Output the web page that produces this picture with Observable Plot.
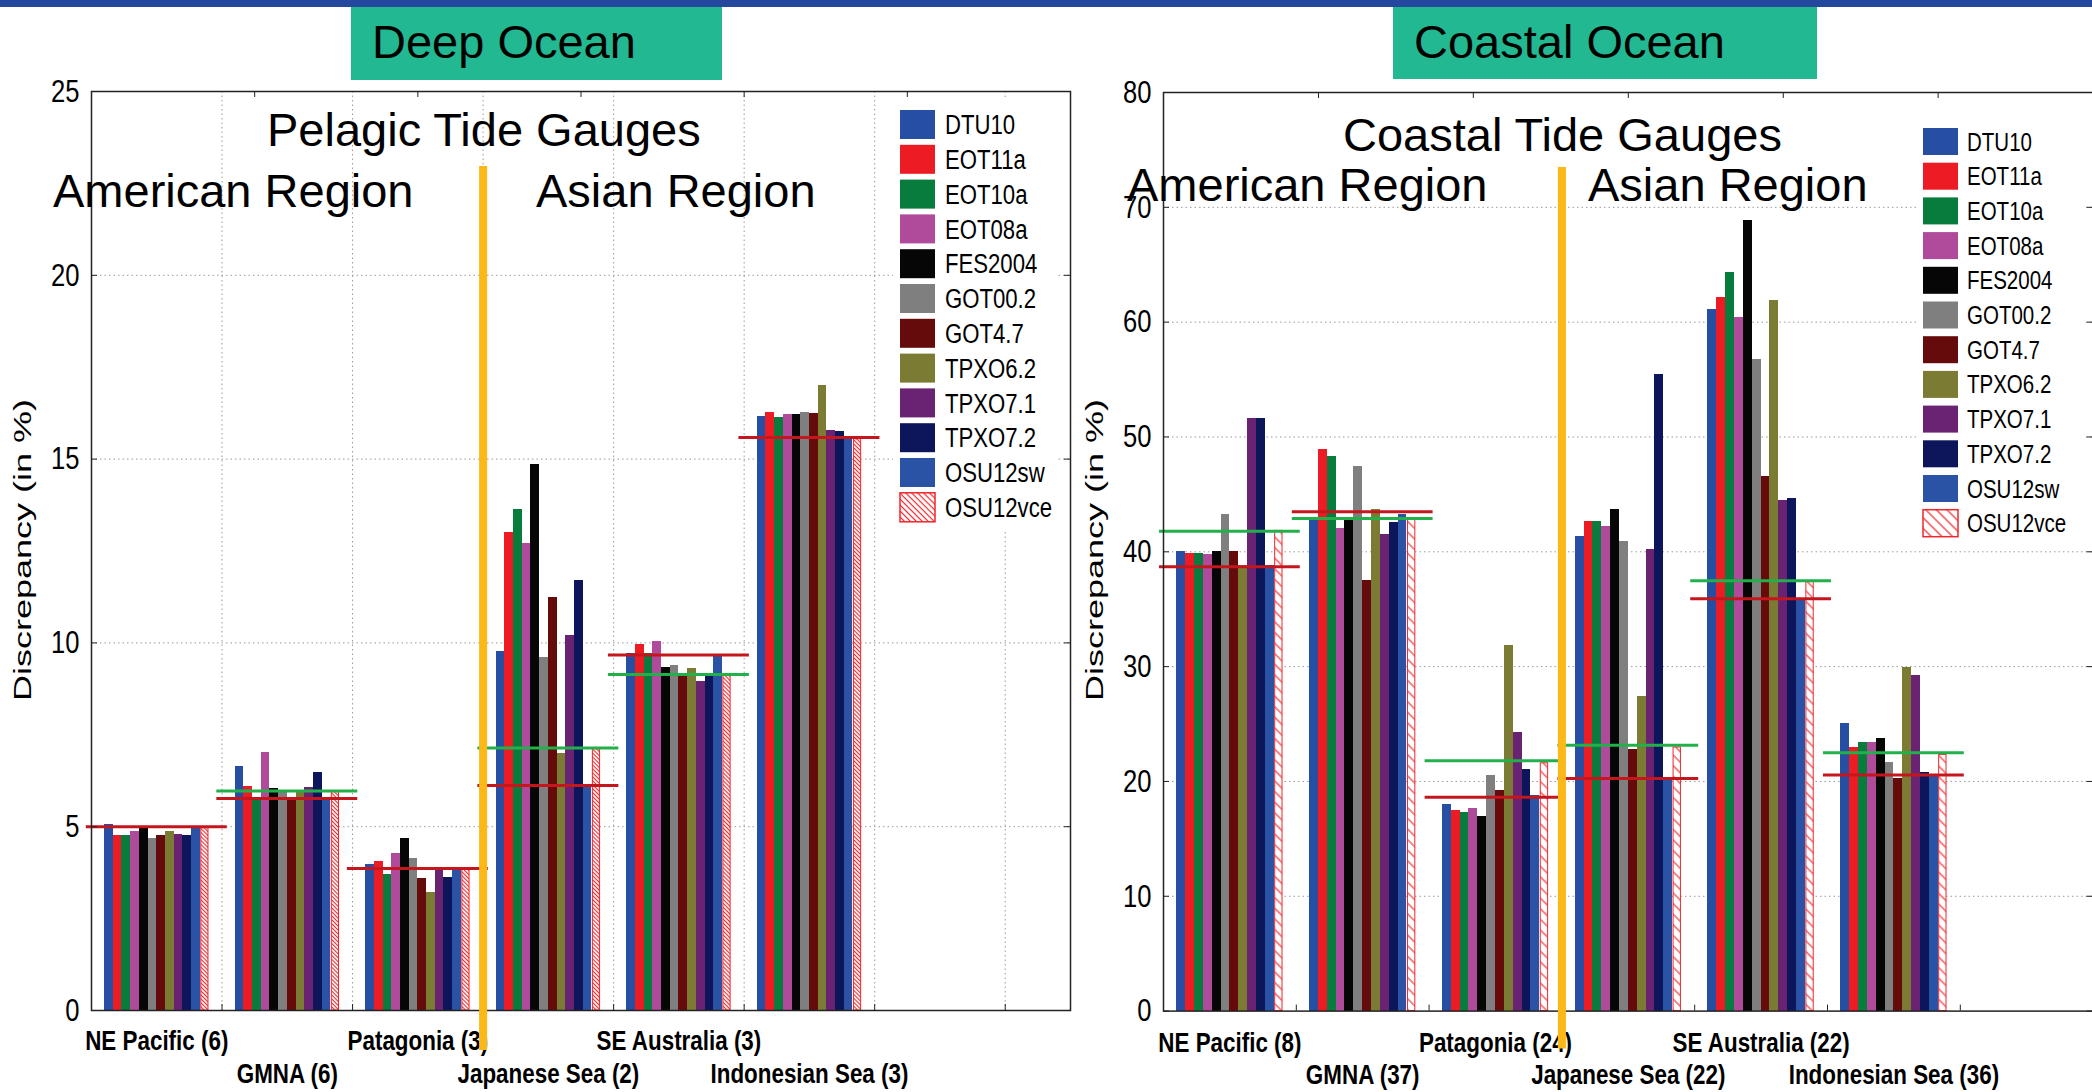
<!DOCTYPE html>
<html><head><meta charset="utf-8">
<script src="https://cdn.jsdelivr.net/npm/d3@7"></script>
<script src="https://cdn.jsdelivr.net/npm/@observablehq/plot@0.6"></script>
<style>
html,body{margin:0;padding:0;background:#fff;}
#page{position:relative;width:2092px;height:1092px;overflow:hidden;background:#fff;}
#page svg{position:absolute;top:0;}
</style></head>
<body><div id="page"></div>
<script>
// ---------- data ----------
const models = ["DTU10","EOT11a","EOT10a","EOT08a","FES2004","GOT00.2","GOT4.7","TPXO6.2","TPXO7.1","TPXO7.2","OSU12sw","OSU12vce"];
const modelColors = ["#264ea2","#ed1c24","#077c3d","#b04a9b","#060606","#7f7f7f","#650b0b","#7b7b33","#6a2272","#0e165b","#2a53a6","#f0262b"];

const deepRegions = ["NE Pacific (6)","GMNA (6)","Patagonia (3)","Japanese Sea (2)","SE Australia (3)","Indonesian Sea (3)"];
const deepValues = [
  [5.06,4.75,4.75,4.88,4.96,4.67,4.75,4.88,4.80,4.75,4.96,4.96],
  [6.65,6.09,5.75,7.03,6.03,5.95,5.75,5.97,6.06,6.48,5.75,5.94],
  [3.96,4.04,3.71,4.27,4.68,4.14,3.59,3.20,3.83,3.63,3.80,3.83],
  [9.76,13.01,13.64,12.70,14.85,9.61,11.23,7.00,10.19,11.71,6.09,7.11],
  [9.70,9.96,9.70,10.04,9.34,9.39,9.14,9.29,8.95,9.11,9.64,9.14],
  [16.16,16.27,16.13,16.21,16.21,16.27,16.24,17.01,15.78,15.74,15.54,15.54]
];
const deepRed = [5.0,5.77,3.86,6.12,9.67,15.59];
const deepGreen = [null,5.97,null,7.14,9.14,null];

const coastalRegions = ["NE Pacific (8)","GMNA (37)","Patagonia (24)","Japanese Sea (22)","SE Australia (22)","Indonesian Sea (36)"];
const coastalValues = [
  [40.0,39.87,39.87,39.76,40.0,43.28,40.0,38.83,51.6,51.6,38.83,41.82],
  [42.74,48.92,48.27,42.06,42.74,47.42,37.49,43.70,41.52,42.59,43.24,42.93],
  [17.98,17.44,17.29,17.68,16.91,20.51,19.21,31.86,24.30,21.08,18.75,21.58],
  [41.31,42.61,42.61,42.21,43.71,40.86,22.81,27.41,40.21,55.41,20.2,22.96],
  [61.06,62.16,64.31,60.42,68.86,56.72,46.52,61.86,44.51,44.66,35.96,37.36],
  [25.01,22.96,23.36,23.36,23.76,21.61,20.26,29.96,29.2,20.81,20.56,22.31]
];
const coastalRed = [38.69,43.48,18.63,20.26,35.92,20.56];
const coastalGreen = [41.79,42.9,21.81,23.16,37.47,22.51];

const deepYTicks = [0,5,10,15,20,25];
const deepGrid = [5,10,15,20];
const deepBoundaries = [1,2,3,4,5,6,7];
const deepTopTicks = [1.25,2.5,3.75,5,6.25];
const coastalYTicks = [0,10,20,30,40,50,60,70,80];
const coastalGrid = [10,20,30,40,50,60,70];
const coastalBoundaries = [1,2,3,4,5,6];
const coastalTopTicks = [1.167,2.333,3.5,4.667,5.833];
const regionSplit = [3];

// condensed look (no narrow font installed): squeeze glyphs horizontally
function narrow(nodes, factor) {
  nodes.forEach(t => {
    const len = t.getComputedTextLength();
    if (len > 0) { t.setAttribute("textLength", len * factor); t.setAttribute("lengthAdjust", "spacingAndGlyphs"); }
  });
}

// ---------- patterns ----------
const page = d3.select("#page");
const defsSvg = page.append("svg").attr("width",0).attr("height",0);
const defs = defsSvg.append("defs");
function hatch(id, size, sw) {
  const p = defs.append("pattern").attr("id", id).attr("patternUnits","userSpaceOnUse")
    .attr("width", size).attr("height", size).attr("patternTransform","rotate(45)");
  p.append("rect").attr("width", size).attr("height", size).attr("fill","#fff");
  p.append("line").attr("x1",0).attr("y1",size/2).attr("x2",size).attr("y2",size/2)
    .attr("stroke","#f0262b").attr("stroke-width", sw);
}
hatch("hatchL", 2.8, 1.1);
hatch("hatchR", 7.5, 1.1);
hatch("hatchLegL", 4.2, 1.2);
hatch("hatchLegR", 7.5, 1.2);

// ---------- panel ----------
function panel(cfg) {
  const nm = models.length, gw = 0.8 / nm;
  const rows = [];
  cfg.regions.forEach((r, g) => models.forEach((m, k) => rows.push({
    g, model: m, value: cfg.values[g][k], x1: g + 0.1 + k * gw, x2: g + 0.1 + (k + 1) * gw
  })));
  const lines = (arr) => arr.map((v, g) => ({v, a: g - cfg.lineOut, b: g + 1 + cfg.lineOut})).filter(d => d.v != null);
  const labels = cfg.regions.map((name, g) => ({name, g, cx: g + 0.5}));
  const innerW = cfg.width - cfg.mL - cfg.mR, innerH = cfg.height - cfg.mT - cfg.mB;
  const tickS = 6;
  const svg = Plot.plot({
    width: cfg.width, height: cfg.height,
    marginLeft: cfg.mL, marginRight: cfg.mR, marginTop: cfg.mT, marginBottom: cfg.mB,
    x: {domain: [0, cfg.xMax], axis: null},
    y: {domain: [0, cfg.yMax]},
    color: {domain: models.slice(0, 11), range: modelColors.slice(0, 11)},
    style: {fontFamily: '"Liberation Sans",Arial,sans-serif', fontSize: "32px", background: "transparent", overflow: "visible", color: "#000"},
    marks: [
      Plot.gridY(cfg.grid, {stroke: "#9a9a9a", strokeOpacity: 1, strokeDasharray: "1.5,3"}),
      cfg.vGrid ? Plot.gridX(cfg.vGrid, {stroke: "#9a9a9a", strokeOpacity: 1, strokeDasharray: "1.5,3"}) : null,
      Plot.rect(rows.filter(d => d.model !== "OSU12vce"), {x1: "x1", x2: "x2", y1: 0, y2: "value", fill: "model", inset: 0, shapeRendering: "crispEdges"}),
      Plot.rect(rows.filter(d => d.model === "OSU12vce"), {x1: "x1", x2: "x2", y1: 0, y2: "value", fill: cfg.hatch, stroke: "#f0262b", strokeWidth: 1, insetLeft: 1, insetRight: 0.5}),
      Plot.ruleY(lines(cfg.green), {y: "v", x1: "a", x2: "b", stroke: "#22b04b", strokeWidth: 3}),
      Plot.ruleY(lines(cfg.red), {y: "v", x1: "a", x2: "b", stroke: "#c4161c", strokeWidth: 3}),
      Plot.frame({stroke: "#222", strokeWidth: 1.5}),
      Plot.axisY(cfg.yTicks, {tickSize: 0, tickPadding: 12, fontSize: 32, label: null}),
      Plot.tickY(cfg.yTicks, {y: d => d, insetRight: innerW - tickS, stroke: "#222"}),
      Plot.tickY(cfg.yTicks, {y: d => d, insetLeft: innerW - tickS, stroke: "#222"}),
      Plot.tickX(cfg.boundaries, {x: d => d, insetTop: innerH - tickS, stroke: "#222"}),
      Plot.tickX(cfg.topTicks, {x: d => d, insetBottom: innerH - tickS, stroke: "#222"}),
      Plot.text(labels.filter(d => d.g % 2 === 0), {x: "cx", text: "name", frameAnchor: "bottom", lineAnchor: "top", dy: cfg.row1, fontWeight: "bold", fontSize: 28}),
      Plot.text(labels.filter(d => d.g % 2 === 1), {x: "cx", text: "name", frameAnchor: "bottom", lineAnchor: "top", dy: cfg.row2, fontWeight: "bold", fontSize: 28}),
      Plot.ruleX(regionSplit, {x: d => d, stroke: "#fbb817", strokeWidth: 8, insetTop: cfg.orangeTop, insetBottom: cfg.orangeBottom})
    ]
  });
  svg.style.left = cfg.left + "px";
  page.node().appendChild(svg);
  narrow(svg.querySelectorAll("text"), 0.8);
}

panel({regions: deepRegions, values: deepValues, red: deepRed, green: deepGreen,
  yMax: 25, yTicks: deepYTicks, grid: deepGrid, vGrid: deepBoundaries, boundaries: deepBoundaries, topTicks: deepTopTicks,
  xMax: 7.5, width: 1090, height: 1092, mL: 91, mR: 20, mT: 91, mB: 82, left: 0,
  hatch: "url(#hatchL)", lineOut: 0.04, row1: 20, row2: 53, orangeTop: 75, orangeBottom: -40});

panel({regions: coastalRegions, values: coastalValues, red: coastalRed, green: coastalGreen,
  yMax: 80, yTicks: coastalYTicks, grid: coastalGrid, vGrid: null, boundaries: coastalBoundaries, topTicks: coastalTopTicks,
  xMax: 7, width: 1060, height: 1092, mL: 123, mR: 7.4, mT: 92, mB: 81.4, left: 1040,
  hatch: "url(#hatchR)", lineOut: 0.03, row1: 21.5, row2: 53.5, orangeTop: 75, orangeBottom: -38});

// ---------- overlay: header, annotations, legends ----------
const ov = page.append("svg").attr("width", 2092).attr("height", 1092).style("left", "0px")
  .attr("font-family", '"Liberation Sans",Arial,sans-serif');
ov.append("rect").attr("x", 0).attr("y", 0).attr("width", 2092).attr("height", 7).attr("fill", "#23489e");
const boxes = [{t: "Deep Ocean", x: 351, w: 371, h: 73}, {t: "Coastal Ocean", x: 1393, w: 424, h: 72}];
boxes.forEach(b => {
  ov.append("rect").attr("x", b.x).attr("y", 7).attr("width", b.w).attr("height", b.h).attr("fill", "#21b892");
  ov.append("text").attr("x", b.x + 21).attr("y", 58).attr("font-size", 47).attr("fill", "#000").text(b.t);
});
const anns = [
  {t: "Pelagic Tide Gauges", x: 267, y: 146}, {t: "American Region", x: 53, y: 207}, {t: "Asian Region", x: 536, y: 207},
  {t: "Coastal Tide Gauges", x: 1343, y: 151}, {t: "American Region", x: 1127, y: 201}, {t: "Asian Region", x: 1588, y: 201}
];
anns.forEach(a => ov.append("text").attr("x", a.x).attr("y", a.y).attr("font-size", 47).attr("fill", "#000").text(a.t));
[31, 1103].forEach(bx => ov.append("text").attr("transform", `translate(${bx},550) rotate(-90) scale(1.5,1)`)
  .attr("text-anchor", "middle").attr("font-size", 24).attr("fill", "#000").text("Discrepancy (in %)"));

function legend(L) {
  ov.append("rect").attr("x", L.bx).attr("y", L.by).attr("width", L.bw).attr("height", L.bh).attr("fill", "#fff");
  models.forEach((m, i) => {
    const y = L.y0 + i * L.pitch;
    const last = m === "OSU12vce";
    ov.append("rect").attr("x", L.sx).attr("y", y).attr("width", 35).attr("height", L.sh)
      .attr("fill", last ? L.hatch : modelColors[i]).attr("stroke", last ? "#f0262b" : "none").attr("stroke-width", 1.5);
    ov.append("text").attr("class", "legtext").attr("x", L.tx).attr("y", y + L.sh / 2 + L.fs * 0.36).attr("font-size", L.fs)
      .attr("fill", "#000").text(m);
  });
}
legend({bx: 893, by: 100, bw: 165, bh: 432, sx: 900, y0: 110, pitch: 34.8, sh: 29, tx: 945, fs: 27, hatch: "url(#hatchLegL)"});
legend({bx: 1918, by: 118, bw: 168, bh: 430, sx: 1923, y0: 128, pitch: 34.7, sh: 27, tx: 1967, fs: 25, hatch: "url(#hatchLegR)"});
narrow(ov.node().querySelectorAll("text.legtext"), 0.82);
</script>
</body></html>
